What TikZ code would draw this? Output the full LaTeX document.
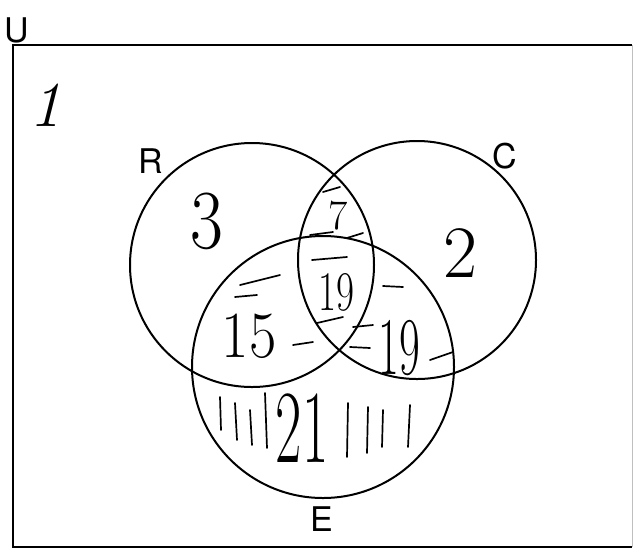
\documentclass[tikz,border=0pt]{standalone}
\usepackage{fontspec}
\newfontfamily\etiq{TeX Gyre Heros}

\begin{document}
\begin{tikzpicture}[x=1pt, y=-1pt,
    conjunto/.style={circle, draw, line width=2pt, inner sep=0pt},
    letra/.style={font=\etiq\fontsize{34}{34}\selectfont, inner sep=0pt},
    cifra/.style={inner sep=0pt},
    raya/.style={line width=1.7pt, line cap=round}]
  \useasboundingbox (0,0) rectangle (634,550);
  % universo
  \draw[line width=2.2pt] (632,45) -- (13,45) -- (13,547) -- (632,547);
  \draw[line width=0.6pt, black!25] (632,45) -- (632,547);
  \node[letra] (U) at (17,30) {U};
  % los tres conjuntos
  \node[conjunto, minimum size=244pt] (R) at (252,265) {};
  \node[conjunto, minimum size=238pt] (C) at (417,260) {};
  \node[conjunto, minimum size=262pt] (E) at (323,367) {};
  \node[letra] (Rl) at (151,161) {R};
  \node[letra] (Cl) at (505,156) {C};
  \node[letra] (El) at (322,519) {E};
  % cifras a mano
  \node[cifra, font=\itshape\fontsize{64}{64}\selectfont] (n1) at (45,105) {1};
  \node[cifra, font=\fontsize{84}{84}\selectfont] (nR) at (207,221) {\scalebox{0.85}[1]{3}};
  \node[cifra, font=\fontsize{74}{74}\selectfont] (nC) at (460,253) {2};
  \node[cifra, font=\fontsize{42}{42}\selectfont] (nRC) at (338,216) {7};
  \node[cifra, font=\fontsize{56}{56}\selectfont] (nRCE) at (336,292) {\scalebox{0.7}[1]{19}};
  \node[cifra, font=\fontsize{66}{66}\selectfont] (nRE) at (249,336) {\scalebox{0.9}[1]{15}};
  \node[cifra, font=\fontsize{82}{82}\selectfont] (nCE) at (399,348) {\scalebox{0.55}[1]{19}};
  \node[cifra, font=\fontsize{104}{104}\selectfont] (nE) at (302,428) {\scalebox{0.55}[1]{21}};
  % rayas de conteo
  \foreach \xa/\ya/\xb/\yb in {323/192/340/187, 310/235/333/232, 347/238/363/233,
      312/260/347/257, 317/323/343/317, 240/285/280/275, 235/297/257/295,
      293/345/313/342, 383/286/403/287, 353/327/373/325, 350/347/370/348,
      430/360/453/352}
    \draw[raya] (\xa,\ya) -- (\xb,\yb);
  \foreach \xa/\ya/\xb/\yb in {220/397/221/430, 235/403/237/440, 250/410/252/445,
      265/393/267/448, 348/403/347/457, 368/407/367/453, 383/410/382/447,
      410/405/408/447}
    \draw[raya] (\xa,\ya) -- (\xb,\yb);
\end{tikzpicture}
\end{document}
